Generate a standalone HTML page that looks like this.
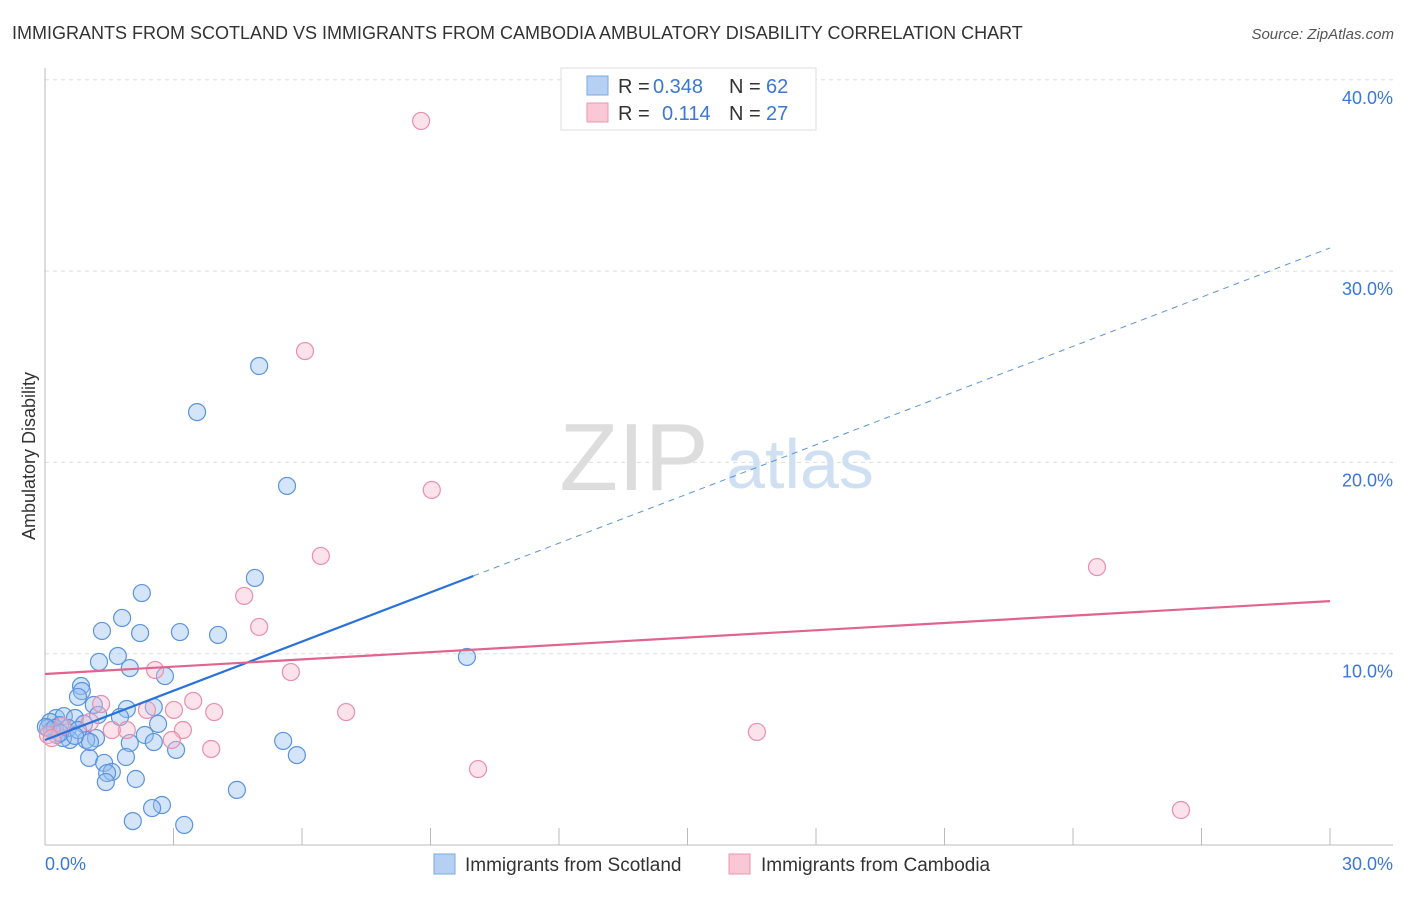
<!DOCTYPE html>
<html><head><meta charset="utf-8"><style>
body{margin:0;background:#fff;font-family:"Liberation Sans",sans-serif;}
svg text{font-family:"Liberation Sans",sans-serif;}
</style></head><body>
<svg width="1406" height="892" viewBox="0 0 1406 892" id="chart">
<text x="12" y="39" font-size="18" fill="#333">IMMIGRANTS FROM SCOTLAND VS IMMIGRANTS FROM CAMBODIA AMBULATORY DISABILITY CORRELATION CHART</text>
<text x="1394" y="39" font-size="15" fill="#555" font-style="italic" text-anchor="end">Source: ZipAtlas.com</text>
<g>
<text x="634" y="490" font-size="96" fill="#ddd" font-family="Liberation Serif, serif" text-anchor="middle">ZIP</text>
<text x="800" y="488" font-size="70" fill="#cfe0f3" text-anchor="middle">atlas</text>
</g>
<g id="grid"></g>
<g id="axes"></g>
<g id="marks"></g>
<text x="35" y="456" font-size="18" fill="#333" text-anchor="middle" transform="rotate(-90 35 456)">Ambulatory Disability</text>
<g>
<rect x="561" y="68" width="255" height="62" fill="#fff" stroke="#ddd"/>
<rect x="587" y="76" width="21" height="19" fill="#b6d0f3" stroke="#7aa7e3"/>
<text x="618" y="93" font-size="20" fill="#333">R = </text><text x="653" y="93" font-size="20" fill="#3a78d6">0.348</text>
<text x="729" y="93" font-size="20" fill="#333">N = </text><text x="766" y="93" font-size="20" fill="#3a78d6">62</text>
<rect x="587" y="103" width="21" height="19" fill="#f9c7d5" stroke="#eb97b0"/>
<text x="618" y="120" font-size="20" fill="#333">R = </text><text x="662" y="120" font-size="20" fill="#3a78d6">0.114</text>
<text x="729" y="120" font-size="20" fill="#333">N = </text><text x="766" y="120" font-size="20" fill="#3a78d6">27</text>
</g>
<g>
<rect x="434" y="854" width="21" height="20" fill="#b6d0f3" stroke="#7aa7e3"/>
<text x="465" y="871" font-size="19" fill="#333">Immigrants from Scotland</text>
<rect x="729" y="854" width="21" height="20" fill="#f9c7d5" stroke="#eb97b0"/>
<text x="761" y="871" font-size="19" fill="#333">Immigrants from Cambodia</text>
</g>
</svg>
<script>
const xTicks=[0,30];
const yTicks=[10,20,30,40];
const blueX=[5.00,3.55,5.65,4.90,2.26,1.80,1.33,2.22,3.15,4.04,1.26,1.70,1.98,2.80,0.84,0.86,0.77,1.14,2.54,1.91,1.24,1.75,0.26,0.44,0.70,2.64,0.12,0.35,0.91,2.33,1.98,2.54,1.19,0.96,0.58,0.42,0.28,0.16,3.06,1.03,1.89,1.38,1.56,1.45,1.42,2.12,4.48,2.73,2.50,2.05,3.25,5.56,5.88,9.85,0.07,0.23,0.54,0.77,0.02,0.35,1.05,0.70];
const blueY=[25.04,22.63,18.77,13.96,13.17,11.87,11.19,11.08,11.13,10.98,9.57,9.88,9.25,8.83,8.31,8.05,7.74,7.32,7.21,7.11,6.80,6.69,6.64,6.74,6.64,6.33,6.43,6.27,6.33,5.75,5.33,5.38,5.59,5.49,5.49,5.59,5.75,6.01,4.97,4.55,4.60,4.29,3.82,3.76,3.29,3.45,2.88,2.09,1.93,1.25,1.05,5.44,4.70,9.83,6.12,6.12,6.12,6.01,6.17,5.85,5.38,5.70];
const pinkX=[8.78,6.07,9.03,6.44,24.56,4.65,5.00,2.57,5.74,3.46,1.31,3.95,2.38,7.03,3.01,1.91,1.56,3.22,2.96,3.88,16.62,10.11,26.52,0.07,0.16,1.05,0.40];
const pinkY=[37.85,25.82,18.56,15.11,14.53,13.02,11.40,9.15,9.04,7.53,7.37,6.95,7.06,6.95,7.06,6.01,6.01,6.01,5.49,5.02,5.91,3.97,1.83,5.75,5.59,6.43,6.22];
const blueTrend=[5.49,31.21]; // y at x=0 and x=30
const blueSolidEnd=10;
const pinkTrend=[8.94,12.75];
const NS='http://www.w3.org/2000/svg';
const sx=v=>45+v/30*1285;
const sy=v=>845-v*19.13;
function mk(tag,attrs,parent){const e=document.createElementNS(NS,tag);for(const k in attrs)e.setAttribute(k,attrs[k]);document.getElementById(parent).appendChild(e);return e;}
yTicks.forEach(t=>{
 const l=mk('line',{x1:45,x2:1393,y1:sy(t),y2:sy(t),stroke:'#ddd','stroke-dasharray':'4,4'},'grid');
 
 
 const tx=mk('text',{x:1393,y:sy(t)+24,'font-size':18,fill:'#3a78d6','text-anchor':'end'},'grid');
 tx.textContent=t.toFixed(1)+'%';
 
 
});
const ax=mk('line',{x1:45,x2:45,y1:68,y2:845,stroke:'#bbb'},'axes');


const bx=mk('line',{x1:45,x2:1393,y1:845,y2:845,stroke:'#bbb'},'axes');


for(let i=1;i<=10;i++){
 const tk=mk('line',{x1:sx(i*3),x2:sx(i*3),y1:828,y2:845,stroke:'#bbb'},'axes');
 
 
}
xTicks.forEach((t,i)=>{
 const tx=mk('text',{x:i==0?45:1393,y:870,'font-size':18,fill:'#3a78d6','text-anchor':i==0?'start':'end'},'axes');
 tx.textContent=t.toFixed(1)+'%';
 
 
});
blueX.forEach((x,i)=>{
 const c=mk('circle',{cx:sx(x),cy:sy(blueY[i]),r:8.5,fill:'rgba(150,190,240,0.4)',stroke:'#5b93de','stroke-width':1.2},'marks');
 
 
});
pinkX.forEach((x,i)=>{
 const c=mk('circle',{cx:sx(x),cy:sy(pinkY[i]),r:8.5,fill:'rgba(248,185,205,0.4)',stroke:'#ea8fab','stroke-width':1.2},'marks');
 
 
});
const by=x=>blueTrend[0]+(blueTrend[1]-blueTrend[0])*x/30;
const l1=mk('line',{x1:sx(0),y1:sy(by(0)),x2:sx(blueSolidEnd),y2:sy(by(blueSolidEnd)),stroke:'#2a72d8','stroke-width':2.2},'marks');


const l2=mk('line',{x1:sx(blueSolidEnd),y1:sy(by(blueSolidEnd)),x2:sx(30),y2:sy(by(30)),stroke:'#5b93de','stroke-width':1,'stroke-dasharray':'6,5'},'marks');


const l3=mk('line',{x1:sx(0),y1:sy(pinkTrend[0]),x2:sx(30),y2:sy(pinkTrend[1]),stroke:'#e0648e','stroke-width':2.2},'marks');


</script>
</body></html>
